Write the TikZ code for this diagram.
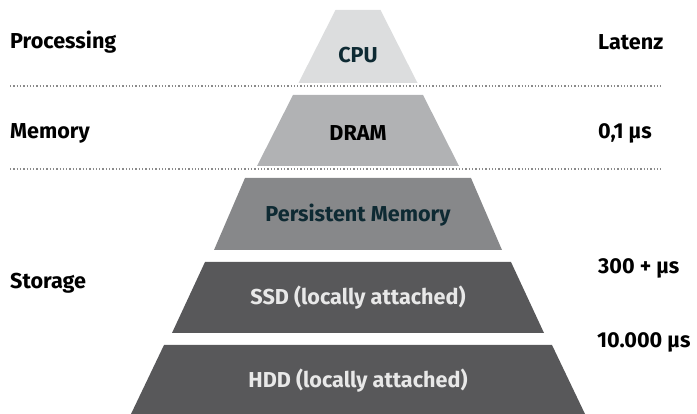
\documentclass[tikz,border=0pt]{standalone}
\usepackage{fontspec}
\setmainfont{Fira Sans}
\usetikzlibrary{positioning}

\definecolor{cpugray}{HTML}{DCDDDE}
\definecolor{dramgray}{HTML}{B1B2B4}
\definecolor{pmemgray}{HTML}{87888A}
\definecolor{diskgray}{HTML}{58585A}
\definecolor{darkteal}{HTML}{0E2A33}
\definecolor{lightlabel}{HTML}{E8E8E8}
\definecolor{dotgray}{HTML}{8A8A8A}

\tikzset{
  lbl/.style={font=\bfseries\fontsize{21.6}{24}\selectfont, inner sep=0pt},
  side/.style={lbl, anchor=west},
  sep/.style={dotgray, line width=1.3pt, dash pattern=on 1.3pt off 2pt},
}

% layer of the pyramid: y top, y bottom, half width top, half width bottom, colour
\newcommand{\tier}[5]{%
  \fill[#5] (358-#3,#1) -- (358+#3,#1) -- (358+#4,#2) -- (358-#4,#2) -- cycle;}

\begin{document}
\begin{tikzpicture}[x=1pt, y=-1pt]
    \useasboundingbox (0,0) rectangle (697,414);
    \tier{10}{83}{22.5}{59.5}{cpugray}
    \tier{95}{166}{65}{101}{dramgray}
    \tier{178}{250}{113}{144}{pmemgray}
    \tier{262}{333}{153}{186}{diskgray}
    \tier{345}{414}{194}{227}{diskgray}

    \node[lbl, darkteal] (cpu) at (358, 55) {CPU};
    \node[lbl, black] (dram) at (358, 133) {DRAM};
    \node[lbl, darkteal] (pmem) at (358, 215) {Persistent Memory};
    \node[lbl, lightlabel] (ssd) at (358, 298) {SSD (locally attached)};
    \node[lbl, lightlabel] (hdd) at (358, 381) {HDD (locally attached)};

    \node[side] (proc) at (10, 42) {Processing};
    \node[side] (mem) at (10, 133) {Memory};
    \node[side] (stor) at (10, 283) {Storage};
    \node[side] (lat) at (598, 42) {Latenz};
    \node[side] (tdram) at (598, 133) {0,1 µs};
    \node[side] (tssd) at (598, 268) {300 + µs};
    \node[side] (thdd) at (597, 342) {10.000 µs};

    \coordinate (l1) at (10, 86);
    \coordinate (r1) at (662, 86);
    \coordinate (l2) at (10, 169);
    \coordinate (r2) at (662, 169);
    \draw[sep] (l1) -- (r1);
    \draw[sep] (l2) -- (r2);
  \end{tikzpicture}
\end{document}
